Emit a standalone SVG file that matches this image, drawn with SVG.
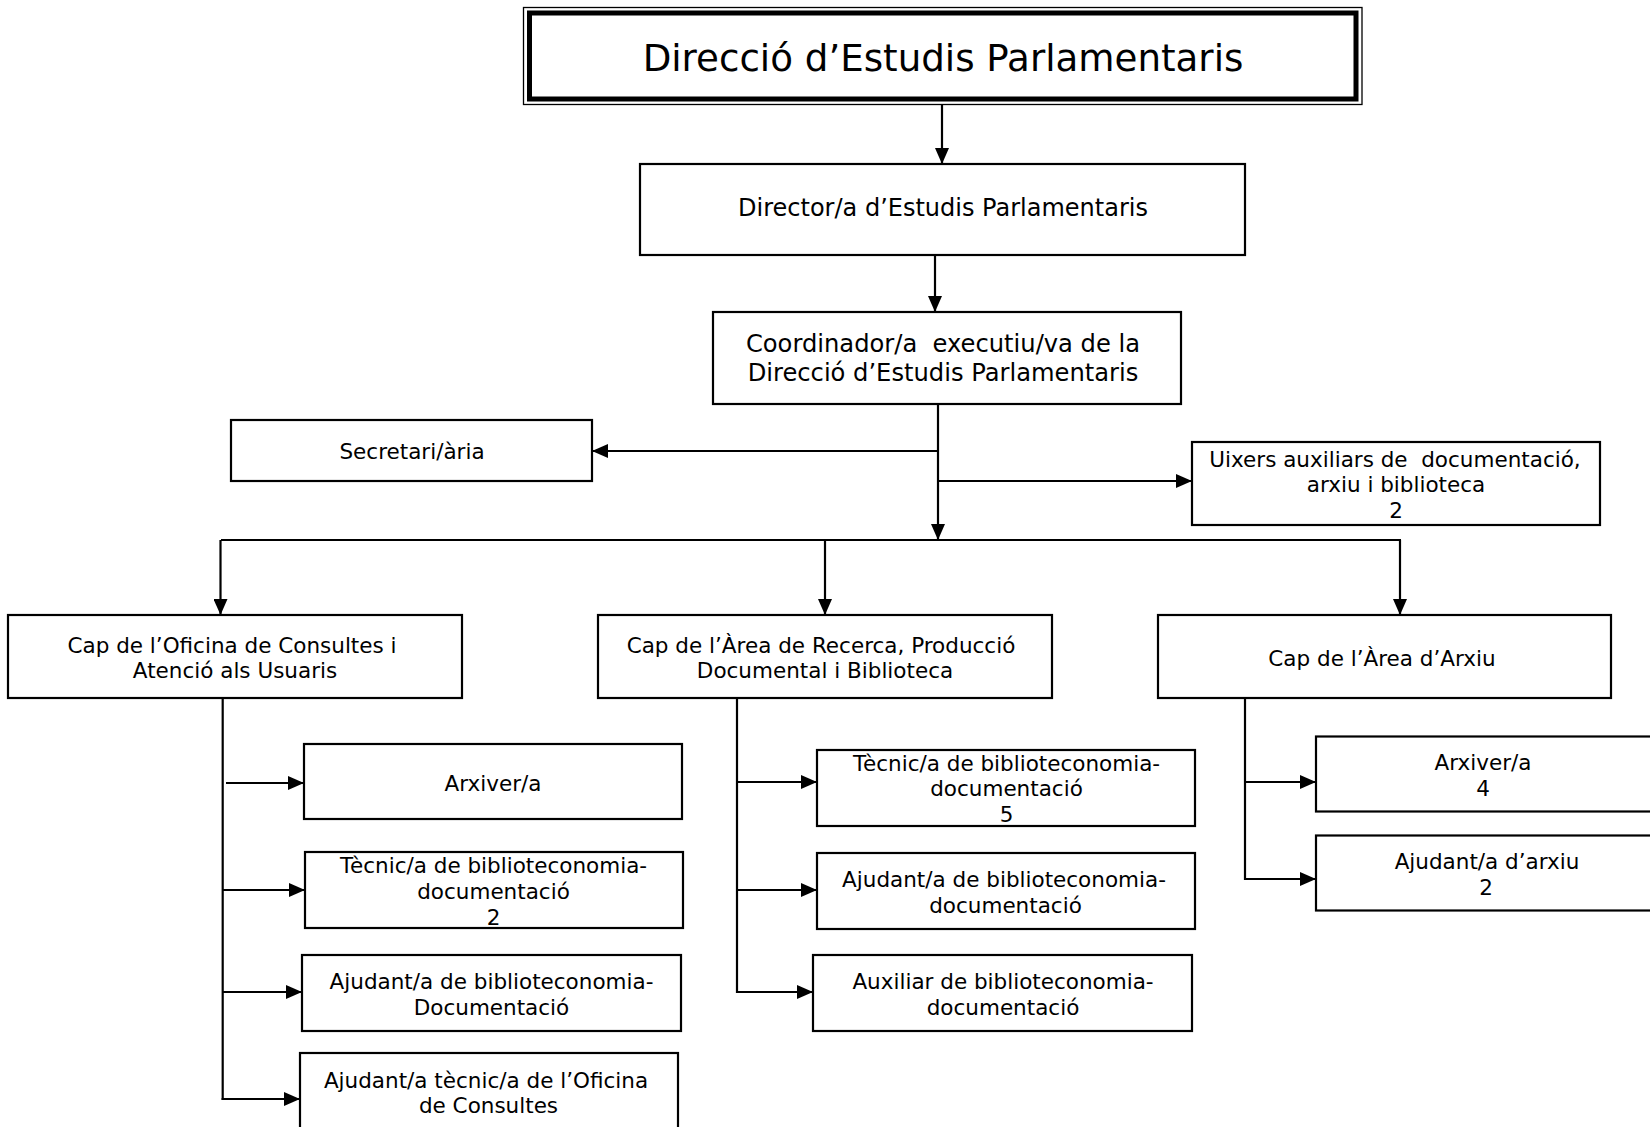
<svg xmlns="http://www.w3.org/2000/svg" width="1650" height="1127" viewBox="0 0 1650 1127">
<defs>
<marker id="ah" markerUnits="userSpaceOnUse" markerWidth="16" markerHeight="14" refX="16" refY="7" orient="auto">
<path d="M0,0 L16,7 L0,14 Z" fill="#000"/>
</marker>
<style>
.box{fill:#fff;stroke:#000;stroke-width:2.2}
.t{font-family:"DejaVu Sans","Verdana",sans-serif;font-size:21.5px;fill:#000;text-anchor:middle}
.ln{fill:none;stroke:#000;stroke-width:2.2}
.ar{fill:none;stroke:#000;stroke-width:2.2;marker-end:url(#ah)}
</style>
</defs>
<rect width="1650" height="1127" fill="#fff"/>

<g id="connectors">
<line class="ar" x1="942" y1="104" x2="942" y2="164"/>
<line class="ar" x1="935" y1="255" x2="935" y2="312"/>
<line class="ar" x1="938" y1="404" x2="938" y2="540"/>
<line class="ar" x1="938" y1="451" x2="592" y2="451"/>
<line class="ar" x1="938" y1="481" x2="1192" y2="481"/>
<line class="ln" x1="221" y1="540" x2="1401" y2="540"/>
<line class="ar" x1="220.5" y1="540" x2="220.5" y2="615"/>
<line class="ar" x1="825" y1="540" x2="825" y2="615"/>
<line class="ar" x1="1400" y1="540" x2="1400" y2="615"/>
<line class="ln" x1="222.7" y1="698" x2="222.7" y2="1100"/>
<line class="ar" x1="226" y1="783" x2="304" y2="783"/>
<line class="ar" x1="222.7" y1="890" x2="305" y2="890"/>
<line class="ar" x1="222.7" y1="992" x2="302" y2="992"/>
<line class="ar" x1="221.6" y1="1099" x2="300" y2="1099"/>
<line class="ln" x1="737" y1="698" x2="737" y2="993"/>
<line class="ar" x1="737" y1="782" x2="817" y2="782"/>
<line class="ar" x1="737" y1="890" x2="817" y2="890"/>
<line class="ar" x1="736" y1="992" x2="813" y2="992"/>
<line class="ln" x1="1245" y1="698" x2="1245" y2="880"/>
<line class="ar" x1="1245" y1="782" x2="1316" y2="782"/>
<line class="ar" x1="1244" y1="879" x2="1316" y2="879"/>
</g>

<g id="n-title">
<rect x="523.5" y="7.5" width="838.5" height="97" fill="#fff" stroke="#000" stroke-width="1.3"/>
<rect x="529.5" y="13" width="826.5" height="86" fill="none" stroke="#000" stroke-width="5"/>
<text class="t" x="943" y="71" style="font-size:37.2px">Direcció d’Estudis Parlamentaris</text>
</g>

<g id="n-director">
<rect class="box" x="640" y="164" width="605" height="91"/>
<text class="t" x="943" y="216" style="font-size:24px">Director/a d’Estudis Parlamentaris</text>
</g>

<g id="n-coord">
<rect class="box" x="713" y="312" width="468" height="92"/>
<text class="t" x="943" y="352" style="font-size:24.2px" xml:space="preserve">Coordinador/a  executiu/va de la</text>
<text class="t" x="943" y="381" style="font-size:24.2px">Direcció d’Estudis Parlamentaris</text>
</g>

<g id="n-secretari">
<rect class="box" x="231" y="420" width="361" height="61"/>
<text class="t" x="412" y="459">Secretari/ària</text>
</g>

<g id="n-uixers">
<rect class="box" x="1192" y="442" width="408" height="83"/>
<text class="t" x="1395" y="467" xml:space="preserve">Uixers auxiliars de  documentació,</text>
<text class="t" x="1396" y="492">arxiu i biblioteca</text>
<text class="t" x="1396" y="518">2</text>
</g>

<g id="n-cap-oficina">
<rect class="box" x="8" y="615" width="454" height="83"/>
<text class="t" x="232" y="653">Cap de l’Oficina de Consultes i</text>
<text class="t" x="235" y="678">Atenció als Usuaris</text>
</g>

<g id="n-cap-recerca">
<rect class="box" x="598" y="615" width="454" height="83"/>
<text class="t" x="821" y="653">Cap de l’Àrea de Recerca, Producció</text>
<text class="t" x="825" y="678">Documental i Biblioteca</text>
</g>

<g id="n-cap-arxiu">
<rect class="box" x="1158" y="615" width="453" height="83"/>
<text class="t" x="1382" y="666">Cap de l’Àrea d’Arxiu</text>
</g>

<g id="n-l-arxiver">
<rect class="box" x="304" y="744" width="378" height="75"/>
<text class="t" x="493" y="791">Arxiver/a</text>
</g>

<g id="n-l-tecnic">
<rect class="box" x="305" y="852" width="378" height="76"/>
<text class="t" x="493.5" y="873">Tècnic/a de biblioteconomia-</text>
<text class="t" x="493.5" y="899">documentació</text>
<text class="t" x="493.5" y="925">2</text>
</g>

<g id="n-l-ajudant">
<rect class="box" x="302" y="955" width="379" height="76"/>
<text class="t" x="491.5" y="989">Ajudant/a de biblioteconomia-</text>
<text class="t" x="491.5" y="1015">Documentació</text>
</g>

<g id="n-l-ajtecnic">
<rect class="box" x="300" y="1053" width="378" height="80"/>
<text class="t" x="486" y="1088">Ajudant/a tècnic/a de l’Oficina</text>
<text class="t" x="488.5" y="1113">de Consultes</text>
</g>

<g id="n-m-tecnic">
<rect class="box" x="817" y="750" width="378" height="76"/>
<text class="t" x="1006.5" y="771">Tècnic/a de biblioteconomia-</text>
<text class="t" x="1006.5" y="796">documentació</text>
<text class="t" x="1006.5" y="822">5</text>
</g>

<g id="n-m-ajudant">
<rect class="box" x="817" y="853" width="378" height="76"/>
<text class="t" x="1004" y="887">Ajudant/a de biblioteconomia-</text>
<text class="t" x="1005.5" y="913">documentació</text>
</g>

<g id="n-m-auxiliar">
<rect class="box" x="813" y="955" width="379" height="76"/>
<text class="t" x="1003" y="989">Auxiliar de biblioteconomia-</text>
<text class="t" x="1003" y="1015">documentació</text>
</g>

<g id="n-r-arxiver">
<rect class="box" x="1316" y="736.5" width="350" height="75"/>
<text class="t" x="1483" y="770">Arxiver/a</text>
<text class="t" x="1483" y="796">4</text>
</g>

<g id="n-r-ajudant">
<rect class="box" x="1316" y="835.5" width="350" height="75"/>
<text class="t" x="1487" y="869">Ajudant/a d’arxiu</text>
<text class="t" x="1486" y="895">2</text>
</g>
</svg>
